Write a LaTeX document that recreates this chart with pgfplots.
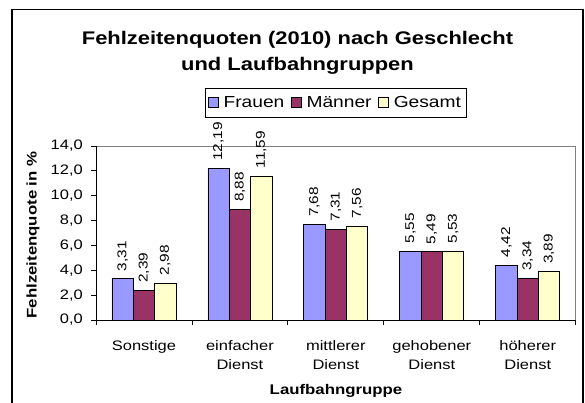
\documentclass[border=0pt]{standalone}
\usepackage{fontspec}
\setmainfont{Liberation Sans}[FakeStretch=1.2]
\usepackage{pgfplots}
\pgfplotsset{compat=1.18}
\definecolor{cFrauen}{HTML}{9999FF}
\definecolor{cMaenner}{HTML}{993366}
\definecolor{cGesamt}{HTML}{FFFFCC}
\begin{document}
\begin{tikzpicture}
\useasboundingbox (-72pt,-62.25pt) rectangle (366.75pt,240pt);
\draw[line width=1pt] (-63pt,-80pt) -- (-63pt,232.9pt) -- (365.25pt,232.9pt) -- (365.25pt,-80pt);
\begin{axis}[
  at={(0,0)}, anchor=south west,
  scale only axis, width=359.8pt, height=130.5pt,
  xmin=-0.5, xmax=4.5, ymin=0, ymax=14,
  ybar=0pt, bar width=16pt,
  clip=false,
  /pgf/number format/assume math mode=true,
  xtick={-0.5,0.5,...,4.5},
  x tick label as interval,
  xticklabels={Sonstige,{einfacher\\Dienst},{mittlerer\\Dienst},{gehobener\\Dienst},{höherer\\Dienst}},
  xticklabel style={align=center, font=\fontsize{10.3}{14.25}\selectfont, yshift=-8.5pt},
  ytick={0,2,...,14},
  yticklabel={\pgfmathprintnumber[fixed,fixed zerofill,precision=1,use comma]{\tick}},
  yticklabel style={font=\fontsize{10.3}{12}\selectfont, xshift=-3pt},
  tick align=outside, xtick pos=bottom, ytick pos=left,
  major tick length=3.4pt,
  tick style={black, line width=0.6pt},
  axis line style={draw=gray, line width=0.6pt},
  extra description/.code={\draw[black, line width=0.6pt] (0,1)--(0,0)--(1,0);},
  nodes near coords={\pgfmathprintnumber[fixed,fixed zerofill,precision=2,use comma]{\pgfplotspointmeta}},
  nodes near coords style={rotate=90, anchor=west, font=\fontsize{9.6}{10}\selectfont, inner ysep=2pt, inner xsep=5.5pt, black},
  every axis plot/.append style={draw=black, line width=0.6pt},
  legend style={at={(0.5,1)}, anchor=north, yshift=43.5pt, legend columns=-1, draw=black, line width=0.6pt,
    font=\fontsize{12}{14}\selectfont, inner xsep=2pt, inner ysep=3.8pt,
    /tikz/every even column/.append style={column sep=3pt},
    /tikz/every odd column/.append style={column sep=1.5pt}},
  legend image code/.code={\draw[#1,draw=black,line width=0.5pt] (0pt,-3.8pt) rectangle (7.6pt,3.8pt);},
]
\addplot[fill=cFrauen] coordinates {(0,3.31) (1,12.19) (2,7.68) (3,5.55) (4,4.42)};
\addplot[fill=cMaenner] coordinates {(0,2.39) (1,8.88) (2,7.31) (3,5.49) (4,3.34)};
\addplot[fill=cGesamt] coordinates {(0,2.98) (1,11.59) (2,7.56) (3,5.53) (4,3.89)};
\legend{Frauen,Männer,Gesamt}
\end{axis}
\node[font=\bfseries\fontsize{13.7}{16}\selectfont, anchor=base] at (151.1pt,206.8pt) {Fehlzeitenquoten (2010) nach Geschlecht};
\node[font=\bfseries\fontsize{13.7}{16}\selectfont, anchor=base] at (151.1pt,186.75pt) {und Laufbahngruppen};
\node[rotate=90, anchor=base, font=\bfseries\fontsize{10.5}{12}\selectfont] at (-44.6pt,63.75pt) {Fehlzeitenquote in \%};
\node[anchor=base, font=\bfseries\fontsize{10.5}{12}\selectfont] at (180pt,-56pt) {Laufbahngruppe};
\end{tikzpicture}
\end{document}
